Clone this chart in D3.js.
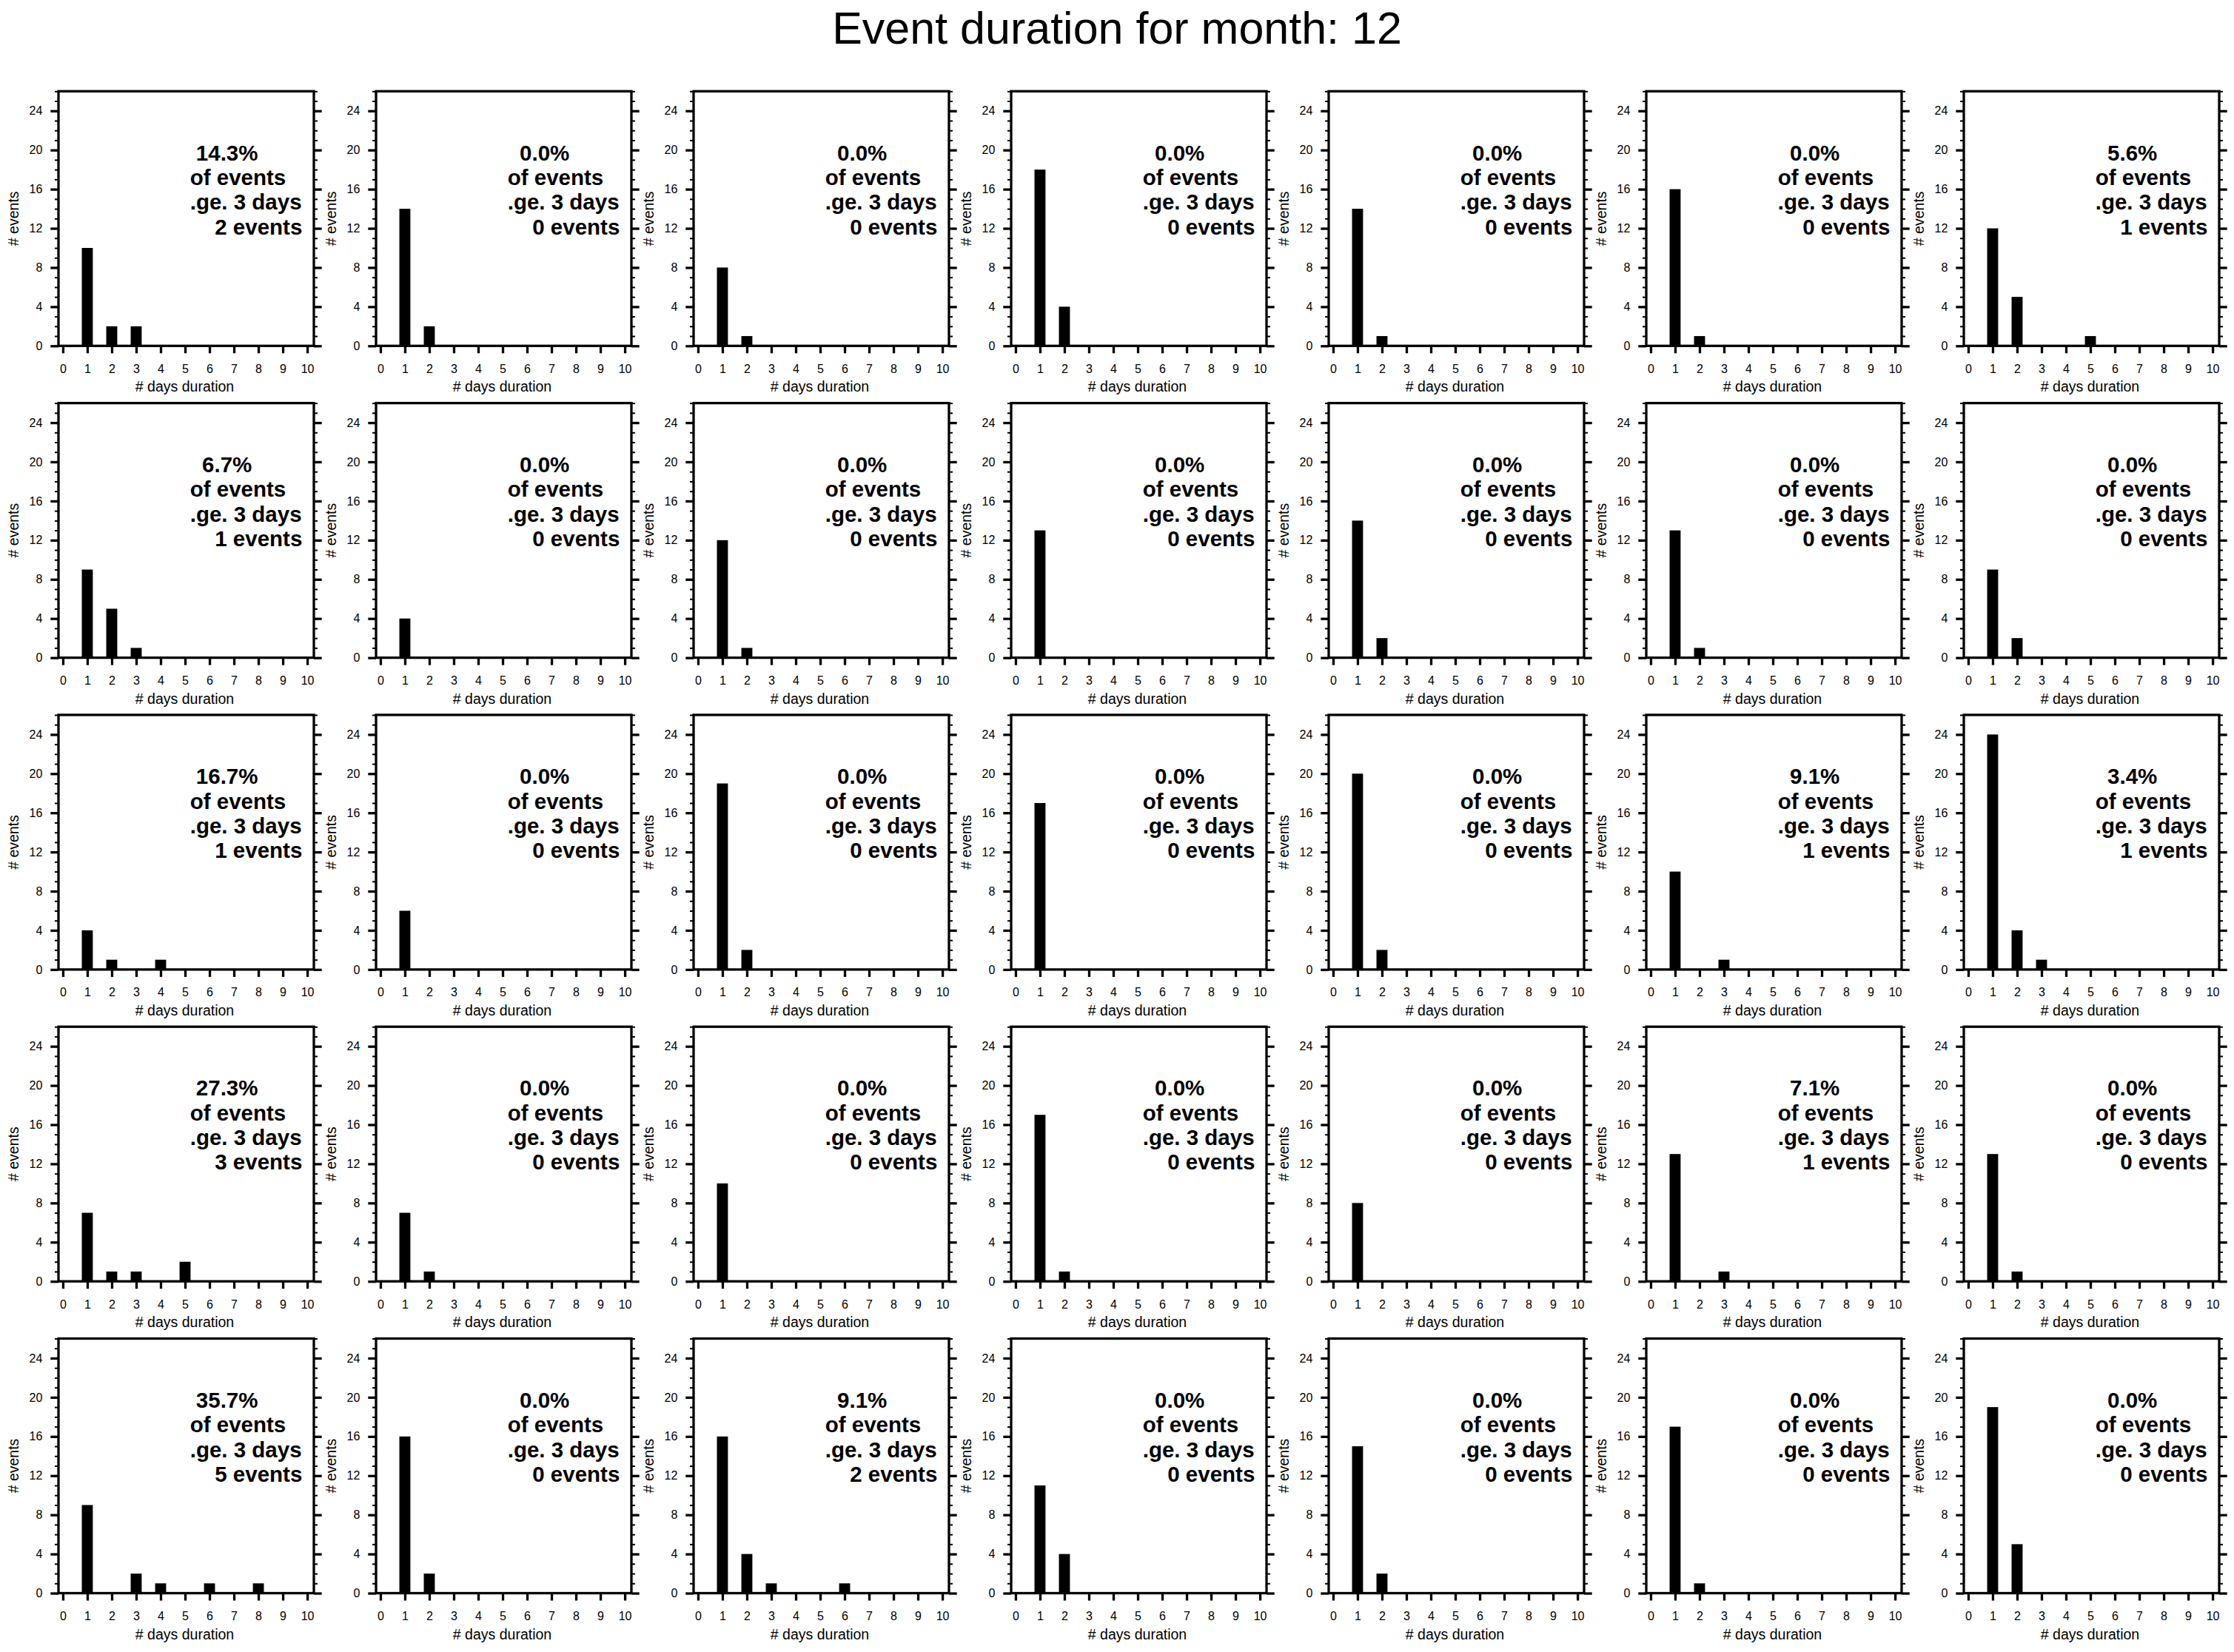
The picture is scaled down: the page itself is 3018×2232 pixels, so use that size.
<!DOCTYPE html>
<html><head><meta charset="utf-8">
<script src="https://cdn.jsdelivr.net/npm/d3@7"></script>
<style>body{margin:0;background:#fff}svg{display:block}</style>
</head><body><svg id="chart"></svg>
<script>
// ---------- data ----------
const chartTitle = "Event duration for month: 12";
const durationTicks = [0,1,2,3,4,5,6,7,8,9,10];
const countTicks = [0,4,8,12,16,20,24];
const durations = [1,2,3,4,5,6,7,8,9,10];
const longThreshold = 3;
// counts of events per duration (1..10 days), one array per panel
const row1Counts = [[10,2,2],[14,2],[8,1],[18,4],[14,1],[16,1],[12,5,0,0,1]];
const row2Counts = [[9,5,1],[4],[12,1],[13],[14,2],[13,1],[9,2]];
const row3Counts = [[4,1,0,1],[6],[19,2],[17],[20,2],[10,0,1],[24,4,1]];
const row4Counts = [[7,1,1,0,2],[7,1],[10],[17,1],[8],[13,0,1],[13,1]];
const row5Counts = [[9,0,2,1,0,1,0,1],[16,2],[16,4,1,0,0,1],[11,4],[15,2],[17,1],[19,5]];
const xAxisTitle = "# days duration";
const yAxisTitle = "# events";

// ---------- layout ----------
const W = 3018, H = 2232;
const left0 = 79, pitchX = 429, pw = 345;
const top0 = 123.3, pitchY = 421.3, ph = 344;

const svg = d3.select("#chart").attr("width", W).attr("height", H)
  .style("font-family", "'Liberation Sans', Arial, Helvetica, sans-serif");
svg.append("rect").attr("width", W).attr("height", H).attr("fill", "#fff");

svg.append("text").attr("x", W/2).attr("y", 59).attr("text-anchor", "middle")
  .attr("font-size", 61).attr("fill", "#000").text(chartTitle);

const rows = [row1Counts, row2Counts, row3Counts, row4Counts, row5Counts];

const x = d3.scaleLinear().domain([-0.18, 10.27]).range([0, pw]);
const y = d3.scaleLinear().domain([0, 26]).range([ph, 0]);
const barW = 0.45;

rows.forEach((row, r) => {
  row.forEach((counts, c) => {
    const vals = durations.map((d, i) => ({d, v: counts[i] || 0}));
    const total = d3.sum(vals, e => e.v);
    const nLong = d3.sum(vals.filter(e => e.d >= longThreshold), e => e.v);
    const pct = total > 0 ? (100 * nLong / total) : 0;

    const g = svg.append("g").attr("transform", `translate(${left0 + c*pitchX},${top0 + r*pitchY})`);

    // bars
    g.selectAll("rect.bar").data(vals.filter(e => e.v > 0)).join("rect")
      .attr("class", "bar")
      .attr("x", e => x(e.d - barW/2))
      .attr("width", x(barW) - x(0))
      .attr("y", e => y(e.v))
      .attr("height", e => y(0) - y(e.v))
      .attr("fill", "#000");

    // minor y ticks left/right
    const minorL = d3.axisLeft(y).tickValues(d3.range(0, 27)).tickSize(5).tickFormat("");
    const minorR = d3.axisRight(y).tickValues(d3.range(0, 27)).tickSize(5).tickFormat("");
    g.append("g").call(minorL).call(s => s.select(".domain").remove())
      .selectAll("line").attr("stroke-width", 2);
    g.append("g").attr("transform", `translate(${pw},0)`).call(minorR)
      .call(s => s.select(".domain").remove()).selectAll("line").attr("stroke-width", 2);

    // major y ticks
    const majL = d3.axisLeft(y).tickValues(countTicks).tickSize(10.7).tickPadding(11);
    const gl = g.append("g").call(majL);
    gl.select(".domain").remove();
    gl.selectAll("line").attr("stroke-width", 3.3);
    gl.selectAll("text").attr("font-size", 16).attr("font-family", "'Liberation Sans', Arial, sans-serif").attr("fill", "#000");

    const majR = d3.axisRight(y).tickValues(countTicks).tickSize(10.7).tickFormat("");
    const gr = g.append("g").attr("transform", `translate(${pw},0)`).call(majR);
    gr.select(".domain").remove();
    gr.selectAll("line").attr("stroke-width", 3.3);

    // x axis
    const xb = d3.axisBottom(x).tickValues(durationTicks).tickSize(10).tickPadding(15);
    const gb = g.append("g").attr("transform", `translate(0,${ph})`).call(xb);
    gb.select(".domain").remove();
    gb.selectAll("line").attr("stroke-width", 3.3);
    gb.selectAll("text").attr("font-size", 16).attr("font-family", "'Liberation Sans', Arial, sans-serif").attr("fill", "#000");

    // frame
    g.append("rect").attr("x", 0).attr("y", 0).attr("width", pw).attr("height", ph)
      .attr("fill", "none").attr("stroke", "#000").attr("stroke-width", 3.3);

    // axis titles
    g.append("text").attr("x", pw/2 - 2).attr("y", ph + 62).attr("text-anchor", "middle")
      .attr("font-size", 19.5).attr("fill", "#000").text(xAxisTitle);
    g.append("text").attr("transform", `translate(-54,${ph/2}) rotate(-90)`)
      .attr("text-anchor", "middle").attr("font-size", 19.5).attr("fill", "#000").text(yAxisTitle);

    // annotation
    const t = g.append("g").attr("font-weight", "bold").attr("font-size", 29.5).attr("fill", "#000");
    t.append("text").attr("x", 227.7).attr("y", 93.3).attr("text-anchor", "middle").text(pct.toFixed(1) + "%");
    t.append("text").attr("x", 177.7).attr("y", 126.7).attr("text-anchor", "start").text("of events");
    t.append("text").attr("x", 177.7).attr("y", 160).attr("text-anchor", "start").text(`.ge. ${longThreshold} days`);
    t.append("text").attr("x", 329.3).attr("y", 193.3).attr("text-anchor", "end").text(`${nLong} events`);
  });
});
</script>
</body></html>
